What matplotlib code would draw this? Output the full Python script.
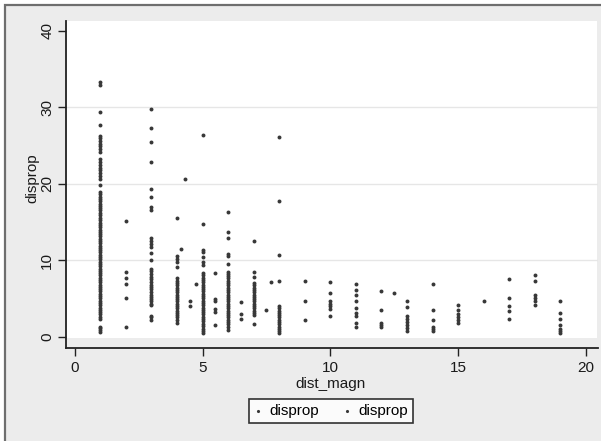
import matplotlib
matplotlib.use("Agg")
import matplotlib.pyplot as plt
from matplotlib.patches import Rectangle

plt.rcParams['font.family'] = ['Liberation Sans', 'DejaVu Sans']

# x positions (dist_magn) and the disprop values read at each of them
dist_magn = [1, 2, 3, 4, 4.17, 4.33, 4.5, 4.75, 5, 5.5, 6, 6.5, 7, 7.5, 7.67,
             8, 9, 10, 11, 12, 12.5, 13, 14, 15, 16, 17, 18, 19]
disprop = [
    [33.3, 32.9, 29.4, 27.7, 26.3, 26.0, 25.6, 25.2, 24.9, 24.6, 24.2, 23.2, 22.9,
     22.5, 22.1, 21.8, 21.4, 21.0, 20.6, 19.8, 18.9, 18.6, 18.3, 18.0, 17.7, 17.4,
     17.1, 16.8, 16.5, 16.2, 15.9, 15.5, 15.2, 14.9, 14.6, 14.3, 14.0, 13.7, 13.4,
     13.1, 12.8, 12.5, 12.2, 11.9, 11.6, 11.3, 11.0, 10.7, 10.4, 10.1, 9.8, 9.5,
     9.2, 8.9, 8.6, 8.3, 8.0, 7.7, 7.4, 7.1, 6.8, 6.5, 6.2, 5.9, 5.6, 5.3, 5.0,
     4.7, 4.4, 4.1, 3.8, 3.5, 3.2, 2.9, 2.6, 2.3, 1.3, 1.1, 0.8, 0.6],
    [15.1, 8.4, 7.7, 6.9, 5.1, 1.2],
    [29.8, 27.3, 25.5, 22.8, 19.3, 18.2, 16.9, 16.6, 12.9, 12.5, 12.1, 11.7, 10.9,
     10.0, 8.9, 8.6, 8.2, 7.8, 7.5, 7.1, 6.8, 6.5, 6.2, 5.8, 5.5, 5.2, 4.9, 4.6,
     4.3, 4.1, 2.7, 2.5, 2.2],
    [15.5, 10.5, 10.1, 9.8, 9.1, 7.6, 7.3, 7.0, 6.7, 6.4, 6.1, 5.8, 5.5, 5.2, 4.9,
     4.6, 4.3, 4.0, 3.7, 3.4, 3.1, 2.8, 2.5, 2.2, 1.8],
    [11.4],
    [20.6],
    [4.7, 4.0],
    [6.9],
    [26.4, 14.7, 11.3, 11.0, 10.4, 9.8, 9.4, 8.3, 8.0, 7.7, 7.4, 7.1, 6.8, 6.5,
     6.2, 5.9, 5.6, 5.3, 5.0, 4.7, 4.4, 4.1, 3.8, 3.5, 3.2, 2.9, 2.6, 2.3, 2.0,
     1.7, 1.4, 1.0, 0.7, 0.4],
    [8.3, 4.9, 4.6, 3.6, 3.2, 1.5],
    [16.3, 13.7, 12.9, 10.8, 10.5, 9.5, 8.5, 8.2, 7.9, 7.6, 7.3, 7.0, 6.7, 6.4,
     6.1, 5.8, 5.5, 5.2, 4.9, 4.6, 4.3, 4.0, 3.7, 3.4, 3.1, 2.8, 2.5, 2.2, 1.9,
     1.6, 1.3, 0.9],
    [4.5, 2.9, 2.3],
    [12.5, 8.5, 7.8, 7.0, 6.7, 6.4, 6.1, 5.8, 5.5, 5.2, 4.9, 4.6, 4.3, 4.0, 3.7,
     3.4, 3.1, 2.8, 1.6],
    [3.5],
    [7.1],
    [26.1, 17.8, 10.7, 7.3, 4.0, 3.7, 3.4, 3.1, 2.8, 2.5, 2.2, 1.9, 1.6, 1.3, 1.0,
     0.7, 0.4],
    [7.3, 4.7, 2.1],
    [7.1, 5.7, 4.7, 4.3, 4.0, 3.6, 2.7],
    [6.9, 6.1, 5.4, 4.6, 3.8, 3.1, 2.7, 1.8, 1.3],
    [5.9, 3.5, 1.8, 1.5, 1.2],
    [5.7],
    [4.7, 3.9, 2.7, 2.3, 1.9, 1.5, 1.1, 0.7],
    [6.9, 3.5, 2.1, 1.3, 1.0, 0.7],
    [4.1, 3.5, 3.0, 2.6, 2.2, 1.8],
    [4.7],
    [7.5, 5.1, 4.0, 3.3, 2.3],
    [8.0, 7.3, 5.4, 5.0, 4.6, 4.1],
    [4.7, 3.1, 2.3, 1.5, 1.0, 0.7, 0.4],
]
x_ticks = [0, 5, 10, 15, 20]
y_ticks = [0, 10, 20, 30, 40]

W, H = 601, 441
bg = '#ececec'
fig = plt.figure(figsize=(W / 100, H / 100), dpi=100, facecolor='white')

# outer graph frame (cut off at right and bottom like the original)
fig.patches.append(Rectangle((5 / W, -0.1), 2, 1.1 - 5 / H, transform=fig.transFigure,
                             facecolor=bg, edgecolor='#6e6e6e', linewidth=1.6, zorder=-10))

ax = fig.add_axes([66 / W, 1 - 348 / H, (598 - 66) / W, (348 - 21) / H])
ax.set_facecolor(bg)
ax.set_xlim(-0.34, 20.47)
ax.set_ylim(-1.5, 41.3)

# white plot region sits a bit above the x axis line
y_frac = (348 - 338) / (348 - 21)
ax.add_patch(Rectangle((1 / 532, y_frac), (597 - 67) / 532, 1 - y_frac,
                       transform=ax.transAxes, facecolor='white', edgecolor='none', zorder=0.1))

xs, ys = [], []
for x, vals in zip(dist_magn, disprop):
    xs += [x] * len(vals)
    ys += vals

ax.scatter(xs, ys, s=8, color='#383838', linewidths=0, zorder=3, label='disprop')
ax.scatter([], [], s=8, color='#383838', linewidths=0, label='disprop')

ax.set_axisbelow(True)
ax.yaxis.grid(True, color='#e6e6e6', linewidth=1.0)
ax.set_xticks(x_ticks)
ax.set_yticks(y_ticks)
ax.set_yticklabels([str(v) for v in y_ticks], rotation=90, va='center')
ax.tick_params(axis='both', direction='out', length=5.5, width=1.0, color='#222222',
               labelsize=11, labelcolor='#1a1a1a')
ax.tick_params(axis='x', pad=4)
ax.tick_params(axis='y', pad=3)
# grid only at interior ticks
for line, v in zip(ax.yaxis.get_gridlines(), y_ticks):
    if v in (0, 40):
        line.set_visible(False)

for s in ('top', 'right'):
    ax.spines[s].set_visible(False)
for s in ('left', 'bottom'):
    ax.spines[s].set_color('#222222')
    ax.spines[s].set_linewidth(1.3)

fig.text(32 / W, 1 - 178 / H, 'disprop', rotation=90, ha='center', va='center',
         fontsize=11, color='#1a1a1a')
fig.text(331 / W, 1 - 384 / H, 'dist_magn', ha='center', va='center',
         fontsize=11, color='#1a1a1a')

leg = fig.legend(loc='center', bbox_to_anchor=(331 / W, 1 - 411 / H), ncol=2,
                 fontsize=11, frameon=True, fancybox=False, edgecolor='black',
                 handlelength=0.5, handletextpad=0.5, columnspacing=1.6,
                 borderpad=0.35, markerscale=0.8)
leg.get_frame().set_linewidth(1.2)
leg.get_frame().set_facecolor('white')

fig.savefig('out.png', dpi=100, facecolor=fig.get_facecolor())
